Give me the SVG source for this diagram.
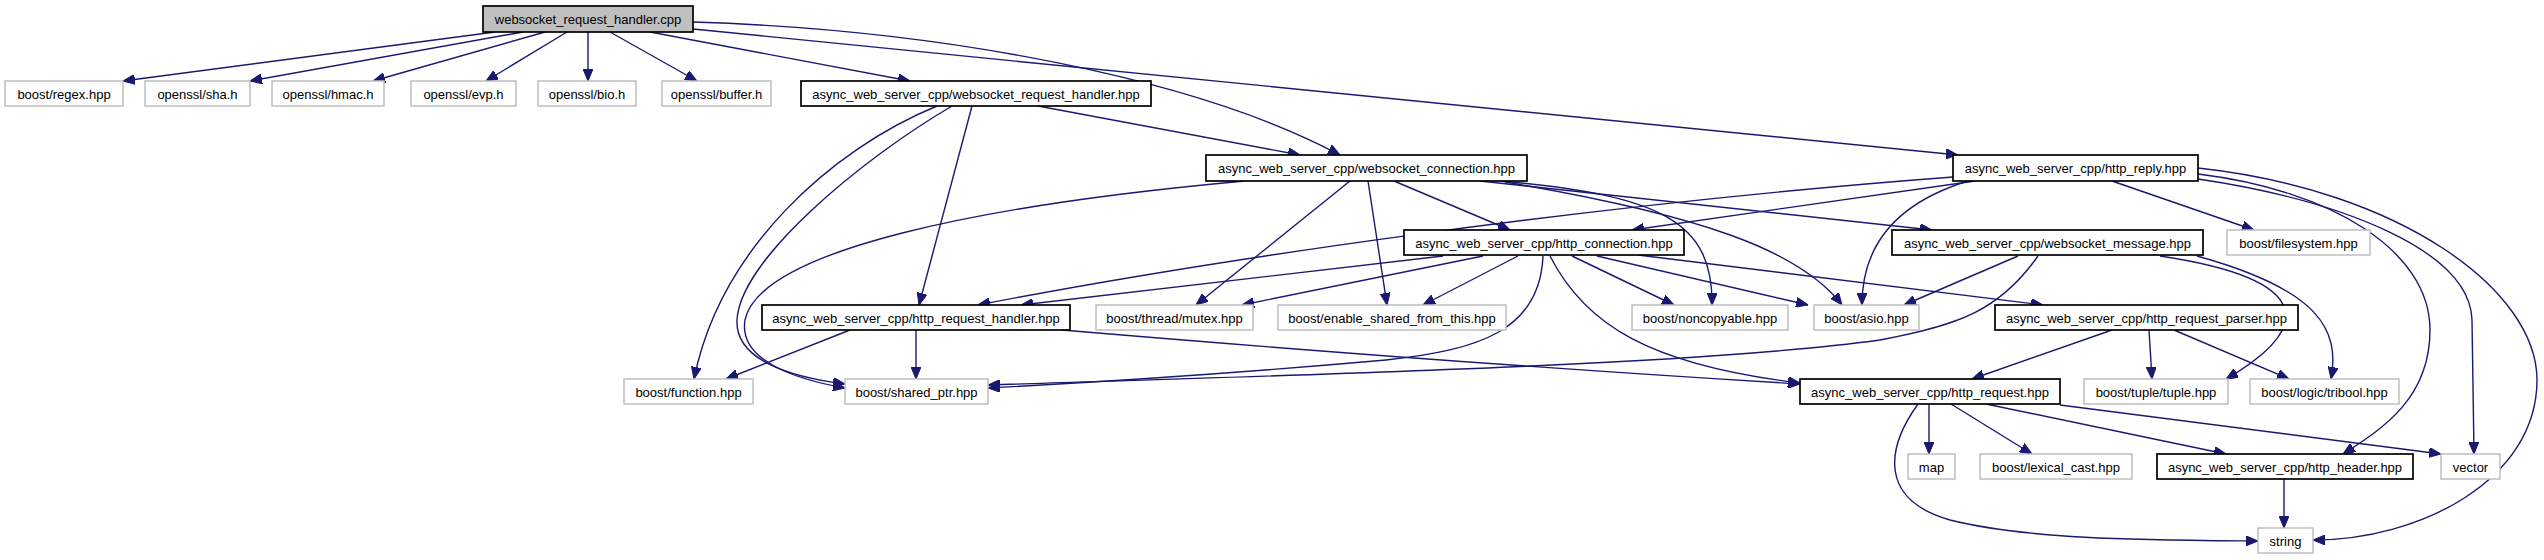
<svg xmlns="http://www.w3.org/2000/svg" width="2544" height="560" viewBox="0 0 2544 560">
<defs>
<marker id="a" markerWidth="12" markerHeight="10" refX="12" refY="5" orient="auto" markerUnits="userSpaceOnUse"><path d="M0,0 L12,5 L0,10 z" fill="#191970" stroke="#191970" stroke-width="1"/></marker>
</defs>
<style>
rect{stroke-width:1.5}
.ext rect{fill:#fff;stroke:#bfbfbf}
.int rect{fill:#fff;stroke:#000;stroke-width:1.7}
.root rect{fill:#bfbfbf;stroke:#000;stroke-width:1.7}
text{font-family:"Liberation Sans",Arial,Helvetica,sans-serif;font-size:13px;text-anchor:middle;fill:#000}
#edges path{fill:none;stroke:#191970;stroke-width:1.4;marker-end:url(#a)}
</style>
<rect width="2544" height="560" fill="#fff"/>
<g id="edges">
<path d="M495,32 L123,81"/>
<path d="M523,32 L250,81"/>
<path d="M545,32 L373,81"/>
<path d="M567,32 L486,81"/>
<path d="M588,32 L588,81"/>
<path d="M610,32 L697,81"/>
<path d="M650,32 L910,81"/>
<path d="M693,22 C950,30 1200,80 1340,155"/>
<path d="M693,29 L1958,155"/>
<path d="M1038,106 L1300,155"/>
<path d="M972,106 L919,305"/>
<path d="M937,106 C830,150 720,250 694,379"/>
<path d="M952,106 C860,160 740,260 737,320 C735,360 790,377 845,384"/>
<path d="M1245,181 C980,205 760,250 745,320 C738,362 800,380 845,388"/>
<path d="M1350,181 L1196,305"/>
<path d="M1368,181 L1387,305"/>
<path d="M1394,181 L1510,230"/>
<path d="M1480,181 L1932,230"/>
<path d="M1500,181 C1662,195 1713,222 1712,305"/>
<path d="M1505,182 C1700,215 1800,250 1842,305"/>
<path d="M1953,177 C1580,205 1200,262 978,305"/>
<path d="M1975,181 L1632,230"/>
<path d="M1968,181 C1890,205 1862,250 1862,305"/>
<path d="M2112,181 L2254,230"/>
<path d="M2198,174 C2330,190 2430,250 2430,330 C2430,400 2380,430 2343,454"/>
<path d="M2198,179 C2340,200 2470,250 2472,320 L2474,454"/>
<path d="M2198,168 C2400,190 2537,290 2537,380 C2537,480 2420,540 2313,540"/>
<path d="M1443,256 L1021,305"/>
<path d="M1483,256 L1242,305"/>
<path d="M1518,256 L1423,305"/>
<path d="M1543,256 C1540,330 1480,350 1386,360 C1250,372 1100,382 988,388"/>
<path d="M1572,256 L1674,305"/>
<path d="M1597,256 L1808,305"/>
<path d="M1638,255 L2043,305"/>
<path d="M1550,256 C1585,325 1650,365 1800,383"/>
<path d="M850,330 L726,379"/>
<path d="M916,330 L916,379"/>
<path d="M1062,330 C1300,350 1600,372 1800,384"/>
<path d="M2018,256 L1904,305"/>
<path d="M2038,256 C2000,310 1960,325 1880,340 C1700,365 1300,375 988,385"/>
<path d="M2160,256 C2320,280 2310,330 2226,379"/>
<path d="M2197,256 C2320,290 2340,330 2331,379"/>
<path d="M2112,330 L1972,379"/>
<path d="M2149,330 L2152,379"/>
<path d="M2174,330 L2289,379"/>
<path d="M1918,404 C1885,450 1880,500 1950,520 C2030,540 2150,540 2258,541"/>
<path d="M1929,404 L1929,454"/>
<path d="M1951,404 L2032,454"/>
<path d="M1986,404 L2226,454"/>
<path d="M2060,405 L2441,454"/>
<path d="M2284,479 L2284,528"/>
</g>
<g id="n_root" class="root"><rect x="483" y="6" width="210" height="26"/><text x="588" y="23.5">websocket_request_handler.cpp</text></g>
<g id="n_regex" class="ext"><rect x="5" y="81" width="118" height="25"/><text x="64" y="98.5">boost/regex.hpp</text></g>
<g id="n_sha" class="ext"><rect x="145" y="81" width="105" height="25"/><text x="197.5" y="98.5">openssl/sha.h</text></g>
<g id="n_hmac" class="ext"><rect x="272" y="81" width="112" height="25"/><text x="328" y="98.5">openssl/hmac.h</text></g>
<g id="n_evp" class="ext"><rect x="411" y="81" width="105" height="25"/><text x="463.5" y="98.5">openssl/evp.h</text></g>
<g id="n_bio" class="ext"><rect x="538" y="81" width="98" height="25"/><text x="587" y="98.5">openssl/bio.h</text></g>
<g id="n_buffer" class="ext"><rect x="662" y="81" width="109" height="25"/><text x="716.5" y="98.5">openssl/buffer.h</text></g>
<g id="n_wrh" class="int"><rect x="801" y="81" width="350" height="25"/><text x="976" y="98.5">async_web_server_cpp/websocket_request_handler.hpp</text></g>
<g id="n_wsc" class="int"><rect x="1206" y="155" width="321" height="26"/><text x="1366.5" y="173">async_web_server_cpp/websocket_connection.hpp</text></g>
<g id="n_reply" class="int"><rect x="1953" y="155" width="245" height="26"/><text x="2075.5" y="173">async_web_server_cpp/http_reply.hpp</text></g>
<g id="n_hc" class="int"><rect x="1404" y="230" width="280" height="25"/><text x="1544" y="247.5">async_web_server_cpp/http_connection.hpp</text></g>
<g id="n_wsm" class="int"><rect x="1892" y="230" width="311" height="25"/><text x="2047.5" y="247.5">async_web_server_cpp/websocket_message.hpp</text></g>
<g id="n_fs" class="ext"><rect x="2227" y="230" width="143" height="25"/><text x="2298.5" y="247.5">boost/filesystem.hpp</text></g>
<g id="n_hrh" class="int"><rect x="762" y="305" width="308" height="25"/><text x="916" y="322.5">async_web_server_cpp/http_request_handler.hpp</text></g>
<g id="n_mutex" class="ext"><rect x="1096" y="305" width="157" height="25"/><text x="1174.5" y="322.5">boost/thread/mutex.hpp</text></g>
<g id="n_esft" class="ext"><rect x="1278" y="305" width="228" height="25"/><text x="1392" y="322.5">boost/enable_shared_from_this.hpp</text></g>
<g id="n_noncopy" class="ext"><rect x="1632" y="305" width="156" height="25"/><text x="1710" y="322.5">boost/noncopyable.hpp</text></g>
<g id="n_asio" class="ext"><rect x="1814" y="305" width="105" height="25"/><text x="1866.5" y="322.5">boost/asio.hpp</text></g>
<g id="n_hrp" class="int"><rect x="1995" y="305" width="303" height="25"/><text x="2146.5" y="322.5">async_web_server_cpp/http_request_parser.hpp</text></g>
<g id="n_function" class="ext"><rect x="624" y="379" width="129" height="25"/><text x="688.5" y="396.5">boost/function.hpp</text></g>
<g id="n_shared" class="ext"><rect x="845" y="379" width="143" height="25"/><text x="916.5" y="396.5">boost/shared_ptr.hpp</text></g>
<g id="n_hr" class="int"><rect x="1800" y="379" width="260" height="25"/><text x="1930" y="396.5">async_web_server_cpp/http_request.hpp</text></g>
<g id="n_tuple" class="ext"><rect x="2084" y="379" width="144" height="25"/><text x="2156" y="396.5">boost/tuple/tuple.hpp</text></g>
<g id="n_tribool" class="ext"><rect x="2250" y="379" width="149" height="25"/><text x="2324.5" y="396.5">boost/logic/tribool.hpp</text></g>
<g id="n_map" class="ext"><rect x="1908" y="454" width="47" height="25"/><text x="1931.5" y="471.5">map</text></g>
<g id="n_lexical" class="ext"><rect x="1980" y="454" width="152" height="25"/><text x="2056" y="471.5">boost/lexical_cast.hpp</text></g>
<g id="n_hh" class="int"><rect x="2157" y="454" width="256" height="25"/><text x="2285" y="471.5">async_web_server_cpp/http_header.hpp</text></g>
<g id="n_vector" class="ext"><rect x="2441" y="454" width="59" height="25"/><text x="2470.5" y="471.5">vector</text></g>
<g id="n_string" class="ext"><rect x="2258" y="528" width="55" height="25"/><text x="2285.5" y="545.5">string</text></g>
</svg>
